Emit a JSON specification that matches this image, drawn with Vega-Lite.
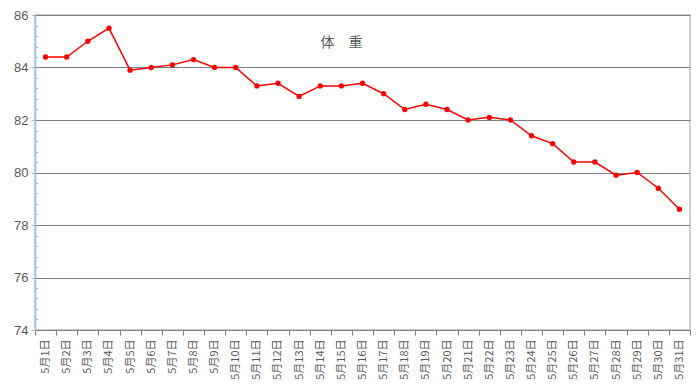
{
  "$schema": "https://vega.github.io/schema/vega-lite/v6.json",
  "width": 655,
  "height": 315,
  "autosize": {"type": "none"},
  "padding": {"left": 35, "top": 15, "right": 10, "bottom": 56},
  "background": "white",
  "config": {
    "view": {"stroke": "#bfbfbf", "strokeWidth": 1.5},
    "font": "Noto Sans CJK SC"
  },
  "title": {
    "text": "体　重",
    "orient": "top",
    "anchor": "middle",
    "offset": -41,
    "dx": -21,
    "fontSize": 14,
    "fontWeight": "normal",
    "color": "#595959",
    "font": "Noto Sans CJK SC"
  },
  "data": {
    "values": [
      {"day": "5月1日", "weight": 84.4},
      {"day": "5月2日", "weight": 84.4},
      {"day": "5月3日", "weight": 85.0},
      {"day": "5月4日", "weight": 85.5},
      {"day": "5月5日", "weight": 83.9},
      {"day": "5月6日", "weight": 84.0},
      {"day": "5月7日", "weight": 84.1},
      {"day": "5月8日", "weight": 84.3},
      {"day": "5月9日", "weight": 84.0},
      {"day": "5月10日", "weight": 84.0},
      {"day": "5月11日", "weight": 83.3},
      {"day": "5月12日", "weight": 83.4},
      {"day": "5月13日", "weight": 82.9},
      {"day": "5月14日", "weight": 83.3},
      {"day": "5月15日", "weight": 83.3},
      {"day": "5月16日", "weight": 83.4},
      {"day": "5月17日", "weight": 83.0},
      {"day": "5月18日", "weight": 82.4},
      {"day": "5月19日", "weight": 82.6},
      {"day": "5月20日", "weight": 82.4},
      {"day": "5月21日", "weight": 82.0},
      {"day": "5月22日", "weight": 82.1},
      {"day": "5月23日", "weight": 82.0},
      {"day": "5月24日", "weight": 81.4},
      {"day": "5月25日", "weight": 81.1},
      {"day": "5月26日", "weight": 80.4},
      {"day": "5月27日", "weight": 80.4},
      {"day": "5月28日", "weight": 79.9},
      {"day": "5月29日", "weight": 80.0},
      {"day": "5月30日", "weight": 79.4},
      {"day": "5月31日", "weight": 78.6}
    ]
  },
  "mark": {
    "type": "line",
    "color": "#ff0000",
    "strokeWidth": 1.5,
    "point": {"filled": true, "color": "#ff0000", "size": 28, "opacity": 1}
  },
  "encoding": {
    "x": {
      "field": "day",
      "type": "nominal",
      "sort": null,
      "scale": {"type": "band", "paddingInner": 0, "paddingOuter": 0},
      "axis": {
        "title": null,
        "labelAngle": -90,
        "labelAlign": "right",
        "labelBaseline": "middle",
        "labelFontSize": 11,
        "labelColor": "#595959",
        "labelFont": "Noto Sans CJK SC",
        "labelPadding": 4,
        "tickBand": "extent",
        "tickSize": 5,
        "tickColor": "#7f7f7f",
        "domainColor": "#7f7f7f",
        "grid": false
      }
    },
    "y": {
      "field": "weight",
      "type": "quantitative",
      "scale": {"domain": [74, 86], "nice": false, "zero": false},
      "axis": {
        "title": null,
        "values": [74, 74.4, 74.8, 75.2, 75.6, 76, 76.4, 76.8, 77.2, 77.6, 78, 78.4, 78.8, 79.2, 79.6, 80, 80.4, 80.8, 81.2, 81.6, 82, 82.4, 82.8, 83.2, 83.6, 84, 84.4, 84.8, 85.2, 85.6, 86],
        "labelExpr": "datum.value % 2 == 0 ? format(datum.value, 'd') : ''",
        "labelFontSize": 13,
        "labelColor": "#595959",
        "labelFont": "Liberation Sans",
        "labelPadding": 3,
        "labelOverlap": false,
        "grid": true,
        "gridColor": "#808080",
        "gridWidth": 1,
        "gridOpacity": {"condition": {"test": "datum.value % 2 == 0", "value": 1}, "value": 0},
        "tickSize": {"condition": {"test": "datum.value % 2 == 0", "value": 4}, "value": -3},
        "tickColor": "#9dc3e6",
        "domainColor": "#9dc3e6",
        "domainWidth": 1.5
      }
    }
  }
}
